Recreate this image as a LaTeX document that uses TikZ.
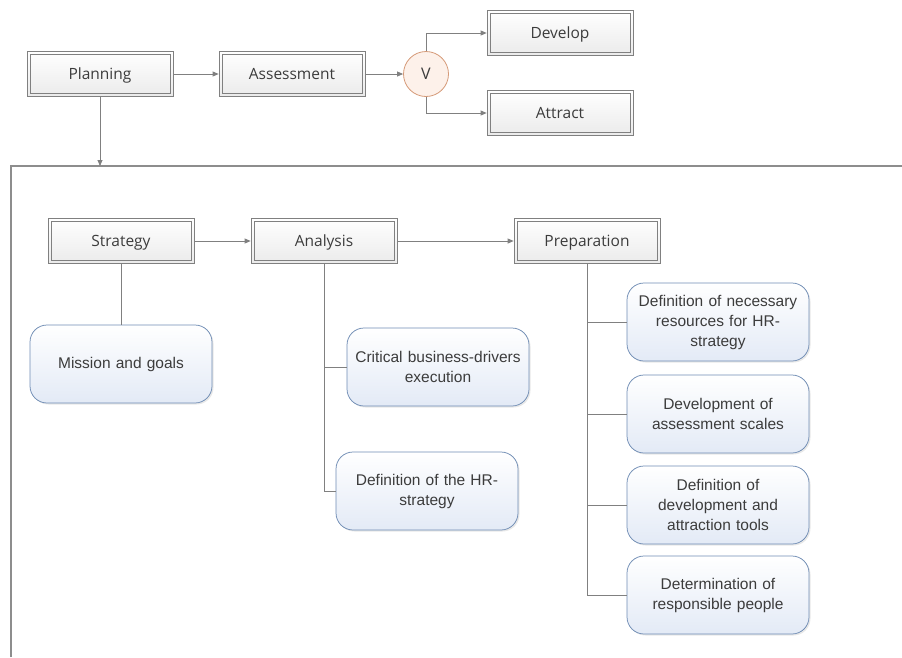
\documentclass[tikz,border=0pt]{standalone}
\usepackage{fontspec}
\setmainfont{Liberation Sans}
\newfontfamily\boxfont{Open Sans}
\usetikzlibrary{positioning,arrows.meta,shadows,calc}
\definecolor{linegray}{HTML}{808080}
\definecolor{textgray}{HTML}{3c3c3c}
\definecolor{roundborder}{HTML}{6f8cb4}
\definecolor{roundfill}{HTML}{e3eaf6}
\definecolor{vborder}{HTML}{d59a78}
\definecolor{vfill}{HTML}{fdf1ea}

\begin{document}
\begin{tikzpicture}[x=1pt,y=-1pt,
    stepbox/.style={draw=linegray,line width=0.7pt,
        top color=white,bottom color=gray!16,minimum width=146pt,minimum height=45pt,
        inner sep=0pt,text height=11pt,text depth=0pt,
        text=textgray,font=\boxfont\fontsize{15.5}{18}\selectfont,
        path picture={\draw[linegray,line width=0.7pt]
            ([xshift=3pt,yshift=-3pt]path picture bounding box.north west) rectangle
            ([xshift=-3pt,yshift=3pt]path picture bounding box.south east);}},
    taskbox/.style={draw=roundborder,line width=0.75pt,rounded corners=17pt,
        top color=white,bottom color=roundfill,minimum width=182pt,minimum height=78pt,
        text width=178pt,align=center,inner sep=2pt,text=textgray,
        font=\fontsize{15.5}{20}\selectfont,
        drop shadow={opacity=0.18,shadow xshift=1.5pt,shadow yshift=-1.5pt}},
    arr/.style={draw=linegray,line width=0.8pt,-{Triangle[length=6pt,width=5pt]}},
    link/.style={draw=linegray,line width=0.8pt}]

    \useasboundingbox (0,0) rectangle (902,657);

    % top row
    \node[stepbox] (plan) at (100,74) {Planning};
    \node[stepbox] (assess) at (292,74) {Assessment};
    \node[circle,draw=vborder,line width=0.8pt,fill=vfill,minimum size=45pt,inner sep=0pt,
        text height=11pt,text depth=0pt,
        text=textgray,font=\boxfont\fontsize{16}{18}\selectfont] (v) at (426,74) {V};
    \node[stepbox] (dev) at (560,33) {Develop};
    \node[stepbox] (attr) at (560,113) {Attract};

    \draw[arr] (plan) -- (assess);
    \draw[arr] (assess) -- (v);
    \draw[arr] (v.north) |- (dev.west);
    \draw[arr] (v.south) |- (attr.west);

    % frame
    \coordinate (frametop) at (11,166);
    \draw[draw=linegray!90,line width=1.3pt] (11,657) -- (frametop) -- (902,166);
    \draw[arr] (plan.south) -- (plan.south |- frametop);

    % second row
    \node[stepbox] (strat) at (121,241) {Strategy};
    \node[stepbox] (ana) at (324,241) {Analysis};
    \node[stepbox] (prep) at (587,241) {Preparation};

    \draw[arr] (strat) -- (ana);
    \draw[arr] (ana) -- (prep);

    % tasks
    \node[taskbox] (mission) at (121,364) {Mission and goals};
    \node[taskbox] (crit) at (438,367) {Critical business-drivers\\execution};
    \node[taskbox] (defhr) at (427,491) {Definition of the HR-\\strategy};
    \node[taskbox] (res) at (718,322) {Definition of necessary\\resources for HR-\\strategy};
    \node[taskbox] (scales) at (718,414) {Development of\\assessment scales};
    \node[taskbox] (tools) at (718,505) {Definition of\\development and\\attraction tools};
    \node[taskbox] (people) at (718,595) {Determination of\\responsible people};

    \draw[link] (strat) -- (mission);
    \draw[link] (ana.south) |- (crit.west);
    \draw[link] (ana.south) |- (defhr.west);
    \foreach \t in {res,scales,tools,people}
        \draw[link] (prep.south) |- (\t.west);
\end{tikzpicture}
\end{document}
